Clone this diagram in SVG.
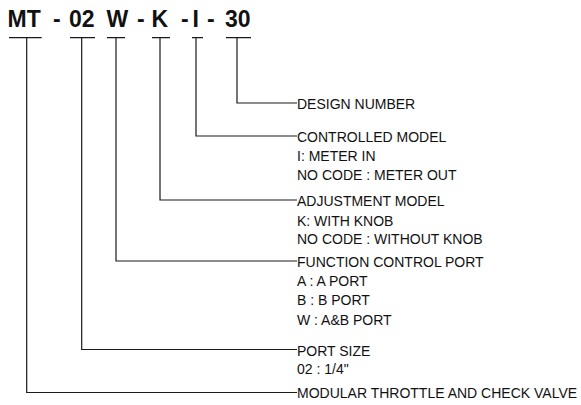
<svg xmlns="http://www.w3.org/2000/svg" width="581" height="405" viewBox="0 0 581 405">
<style>
.t{font-family:"Liberation Sans",Arial,sans-serif;font-size:14px;fill:#111;}
.h{font-family:"Liberation Sans",Arial,sans-serif;font-size:23px;font-weight:bold;fill:#111;}
.c{fill:none;stroke:#1a1a1a;stroke-width:1.2;}
</style>
<rect width="581" height="405" fill="#fff"/>
<g id="title">
<text class="h" y="27"><tspan x="7.5">MT</tspan><tspan x="53">-</tspan><tspan x="69">02</tspan><tspan x="106.5">W</tspan><tspan x="137">-</tspan><tspan x="151.5">K</tspan><tspan x="181">-</tspan><tspan x="192.5">I</tspan><tspan x="207">-</tspan><tspan x="225">30</tspan></text>
</g>
<g id="connectors">
<path class="c" d="M9 37.7H41.7M26.7 37.7V392.5H297"/>
<path class="c" d="M70 37.7H95M81.7 37.7V349.5H297"/>
<path class="c" d="M107 37.7H125M116 37.7V261H297"/>
<path class="c" d="M152 37.7H170M160 37.7V200H297"/>
<path class="c" d="M192 37.7H203M196 37.7V136H297"/>
<path class="c" d="M226 37.7H251M237 37.7V103H297"/>
</g>
<g id="design-number"><text class="t" x="297" y="108.5">DESIGN NUMBER</text></g>
<g id="controlled-model">
<text class="t" x="297" y="142">CONTROLLED MODEL</text>
<text class="t" x="297" y="161">I: METER IN</text>
<text class="t" x="297" y="180">NO CODE : METER OUT</text>
</g>
<g id="adjustment-model">
<text class="t" x="297" y="206">ADJUSTMENT MODEL</text>
<text class="t" x="297" y="225.5">K: WITH KNOB</text>
<text class="t" x="297" y="244">NO CODE : WITHOUT KNOB</text>
</g>
<g id="function-control-port">
<text class="t" x="297" y="267">FUNCTION CONTROL PORT</text>
<text class="t" x="297" y="286">A : A PORT</text>
<text class="t" x="297" y="305">B : B PORT</text>
<text class="t" x="297" y="324.5">W : A&amp;B PORT</text>
</g>
<g id="port-size">
<text class="t" x="297" y="355.5">PORT SIZE</text>
<text class="t" x="297" y="374">02 : 1/4"</text>
</g>
<g id="modular-valve"><text class="t" x="297" y="398">MODULAR THROTTLE AND CHECK VALVE</text></g>
</svg>
